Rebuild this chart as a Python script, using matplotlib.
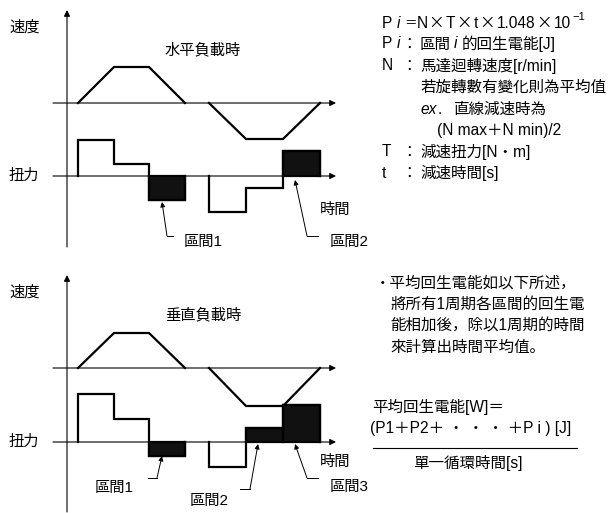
"""Regenerative energy diagram: speed / torque profiles for horizontal and vertical loads."""
import matplotlib
matplotlib.use("Agg")
import matplotlib.pyplot as plt

plt.rcParams["font.family"] = ["Liberation Sans", "Noto Sans CJK JP", "Noto Sans CJK TC", "DejaVu Sans"]

# time breakpoints shared by both profiles (accel / const / decel, then reverse run)
t_fwd = [78, 114, 149, 185]
t_rev = [209, 246, 283, 320]

# speed plateau levels (positive = up)
speed_top = [36, -36]
speed_bot = [35, -38]

# torque level per interval: forward run (3 steps), reverse run (3 steps)
torque_top = [[36, 12, -24], [-36, -12, 25]]
torque_bot = [[48, 23, -14], [-25, 14, 37]]
# which intervals are regenerative (filled black)
regen_top = [[False, False, True], [False, False, True]]
regen_bot = [[False, False, True], [False, True, True]]

FS = 11
FR = 11.2
LW = 1.6
CJK = ["Noto Sans CJK JP", "Noto Sans CJK TC"]
IT = dict(style="italic")


def axis_arrow(ax, x0, y0, x1, y1):
    ax.annotate("", xy=(x1, y1), xytext=(x0, y0),
                arrowprops=dict(arrowstyle="-|>", color="black", lw=0.8,
                                mutation_scale=9, shrinkA=0, shrinkB=0))


def runs(ax, x, y, parts, size=FR):
    """Write text pieces left to right; each piece is (text, kwargs, gap_after)."""
    r = ax.figure.canvas.get_renderer()
    for s, kw, gap in parts:
        dy = kw.pop("dy", 0)
        t = ax.text(x, y + dy, s, fontsize=kw.pop("size", size), va="center", **kw)
        x += t.get_window_extent(r).width + gap


def draw_panel(ax, top, speed_base, torque_base, speeds, torques, regens,
               title, time_dy, regions):
    axis_arrow(ax, 67, top + 237, 67, top)
    axis_arrow(ax, 53, speed_base, 336, speed_base)
    axis_arrow(ax, 53, torque_base, 336, torque_base)
    ax.text(9, speed_base - 76, "速度", fontsize=FS, va="center")
    ax.text(9, torque_base, "扭力", fontsize=FS, va="center")
    ax.text(203, speed_base - 53, title, fontsize=FS, va="center", ha="center")
    ax.text(320, torque_base + time_dy, "時間", fontsize=FS, va="center")

    for t, v in zip([t_fwd, t_rev], speeds):
        ys = [speed_base, speed_base - v, speed_base - v, speed_base]
        ax.plot(t, ys, color="black", lw=LW, solid_joinstyle="miter")

    for t, levels, fills in zip([t_fwd, t_rev], torques, regens):
        xs, ys = [t[0]], [torque_base]
        for i, lv in enumerate(levels):
            xs += [t[i], t[i + 1]]
            ys += [torque_base - lv, torque_base - lv]
        xs.append(t[-1])
        ys.append(torque_base)
        ax.plot(xs, ys, color="black", lw=LW, solid_joinstyle="miter")
        for i, (lv, f) in enumerate(zip(levels, fills)):
            if f:
                ax.bar(t[i], -lv, width=t[i + 1] - t[i], bottom=torque_base,
                       align="edge", color="#111111", edgecolor="black", lw=LW)

    for label, tip, knee, end, txt in regions:
        ax.annotate("", xy=tip, xytext=knee,
                    arrowprops=dict(arrowstyle="-|>", color="black", lw=0.7,
                                    mutation_scale=7, shrinkA=0, shrinkB=0))
        ax.plot([knee[0], end[0]], [knee[1], end[1]], color="black", lw=0.7)
        ax.text(txt[0], txt[1], label, fontsize=FS, va="center")


fig = plt.figure(figsize=(6.12, 5.13), dpi=100)
ax = fig.add_axes([0, 0, 1, 1])
ax.set_xlim(0, 612)
ax.set_ylim(513, 0)
ax.axis("off")

draw_panel(ax, 10, 103, 176, speed_top, torque_top, regen_top, "水平負載時", 34,
           [("區間1", (162, 202), (167, 236), (173, 236), (184, 242)),
            ("區間2", (295, 180), (307, 236), (318, 236), (330, 242))])
draw_panel(ax, 275, 368, 442, speed_bot, torque_bot, regen_bot, "垂直負載時", 20,
           [("區間1", (162, 456), (157, 478), (148, 478), (95, 488)),
            ("區間2", (258, 444), (250, 489), (240, 489), (190, 501)),
            ("區間3", (295, 444), (307, 478), (318, 478), (330, 487))])

# right-hand formula block
x0, xc, xt = 382, 401, 420
X = ("×", dict(family=CJK), 2)
runs(ax, x0, 23, [("P", {}, 4), ("i", dict(IT), 4), ("＝", dict(family=CJK, size=9), 0),
                  ("N", {}, 1), X, ("T", {}, 1), X, ("t", {}, 1), X,
                  ("1.048", {}, 1), X, ("10", {}, 1),
                  ("−1", dict(size=8, dy=-6), 0)])
runs(ax, x0, 44, [("P", {}, 4), ("i", dict(IT), 0)])
ax.text(xc, 44, "：", fontsize=FR, va="center", family=CJK)
runs(ax, xt, 44, [("區間", {}, 3), ("i", dict(IT), 4), ("的回生電能[J]", {}, 0)])
ax.text(x0, 66, "N", fontsize=FR, va="center")
ax.text(xc, 66, "：", fontsize=FR, va="center", family=CJK)
ax.text(xt, 66, "馬達迴轉速度[r/min]", fontsize=FR, va="center")
ax.text(xt, 87, "若旋轉數有變化則為平均值", fontsize=FR, va="center")
runs(ax, xt, 109, [("ex", dict(IT), 1), (".", {}, 11), ("直線減速時為", {}, 0)])
ax.text(437, 130, "(N max＋N min)/2", fontsize=FR, va="center")
ax.text(x0, 152, "T", fontsize=FR, va="center")
ax.text(xc, 152, "：", fontsize=FR, va="center", family=CJK)
ax.text(xt, 152, "減速扭力[N・m]", fontsize=FR, va="center")
ax.text(x0, 173, "t", fontsize=FR, va="center")
ax.text(xc, 173, "：", fontsize=FR, va="center", family=CJK)
ax.text(xt, 173, "減速時間[s]", fontsize=FR, va="center")

notes = ["將所有1周期各區間的回生電", "能相加後，除以1周期的時間", "來計算出時間平均值。"]
ax.text(375, 283, "・平均回生電能如以下所述，", fontsize=FR, va="center")
for i, line in enumerate(notes):
    ax.text(390, 304.5 + i * 21.3, line, fontsize=FR, va="center")

ax.text(372, 407, "平均回生電能[W]＝", fontsize=FR, va="center")
ax.text(471, 428, "(P1＋P2＋ ・ ・ ・ ＋P i ) [J]", fontsize=FR, va="center", ha="center")
ax.plot([373, 577], [448, 448], color="black", lw=0.8)
ax.text(468, 463, "單一循環時間[s]", fontsize=FR, va="center", ha="center")

fig.savefig("out.png", dpi=100)
